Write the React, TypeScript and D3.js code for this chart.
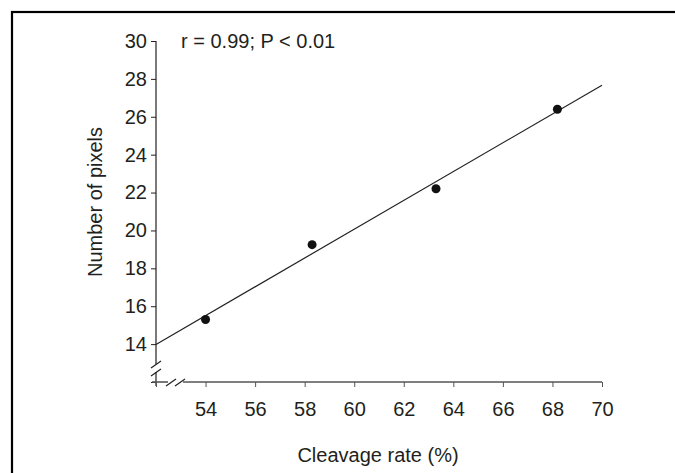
import { useEffect, useRef } from "react";
import * as d3 from "d3";

const cleavageRate = [54.0, 58.3, 63.3, 68.2];
const pixelCount = [15.3, 19.25, 22.2, 26.4];
const xTicks = [52, 54, 56, 58, 60, 62, 64, 66, 68, 70];
const yTicks = [12, 14, 16, 18, 20, 22, 24, 26, 28, 30];
const annotation = "r = 0.99; P < 0.01";

const W = 675;
const H = 473;
const FONT = "'Liberation Sans', Arial, sans-serif";
const INK = "#231f20";
const FS = "20px";

export default function App() {
  const svgRef = useRef<SVGSVGElement>(null);

  useEffect(() => {
    if (!svgRef.current) return;
    const svg = d3.select(svgRef.current);
    svg.selectAll("*").remove();

    const x = d3.scaleLinear().domain([52, 70]).range([156, 602]);
    const y = d3.scaleLinear().domain([12, 30]).range([382, 41]);

    // outer frame (runs off the right and bottom)
    svg.append("rect")
      .attr("x", 12).attr("y", 12)
      .attr("width", W).attr("height", H)
      .attr("fill", "none").attr("stroke", "#000").attr("stroke-width", 2.2);

    // y axis, broken near the bottom
    const yAxis = svg.append("g").attr("transform", `translate(${x(52)},0)`);
    yAxis.call(d3.axisLeft(y).tickValues(yTicks).tickSize(5).tickFormat((d) => (d === 12 ? "" : String(d))));
    yAxis.select(".domain").remove();
    yAxis.selectAll("line").attr("stroke", INK);
    yAxis.selectAll("text")
      .attr("x", -9)
      .style("font-family", FONT).style("font-size", FS).attr("fill", INK);
    const gapY = [364, 372];
    yAxis.append("line").attr("x1", 0).attr("x2", 0).attr("y1", y(30)).attr("y2", gapY[0]).attr("stroke", INK).attr("stroke-width", 1.2);
    yAxis.append("line").attr("x1", 0).attr("x2", 0).attr("y1", gapY[1]).attr("y2", y(12) + 4).attr("stroke", INK).attr("stroke-width", 1.2);
    gapY.forEach((gy) => {
      yAxis.append("line").attr("x1", -5).attr("x2", 5).attr("y1", gy + 4).attr("y2", gy - 3)
        .attr("stroke", INK).attr("stroke-width", 1.2);
    });

    // x axis, broken near the left
    const xAxis = svg.append("g").attr("transform", `translate(0,${y(12)})`);
    xAxis.call(d3.axisBottom(x).tickValues(xTicks).tickSize(5).tickFormat((d) => (d === 52 ? "" : String(d))));
    xAxis.select(".domain").remove();
    xAxis.selectAll("line").attr("stroke", "#555");
    xAxis.selectAll("text")
      .attr("y", 20)
      .style("font-family", FONT).style("font-size", FS).attr("fill", INK);
    const gapX = [171, 180];
    xAxis.append("line").attr("x1", x(52) - 4).attr("x2", gapX[0] - 3).attr("y1", 0).attr("y2", 0).attr("stroke", "#555").attr("stroke-width", 1.6);
    xAxis.append("line").attr("x1", gapX[1] + 3).attr("x2", x(70)).attr("y1", 0).attr("y2", 0).attr("stroke", "#555").attr("stroke-width", 1.6);
    gapX.forEach((gx) => {
      xAxis.append("line").attr("x1", gx - 5).attr("x2", gx + 5).attr("y1", 4).attr("y2", -3)
        .attr("stroke", INK).attr("stroke-width", 1.2);
    });

    // least-squares fit from the data
    const mx = d3.mean(cleavageRate) as number;
    const my = d3.mean(pixelCount) as number;
    const sxy = d3.sum(cleavageRate, (v, i) => (v - mx) * (pixelCount[i] - my));
    const sxx = d3.sum(cleavageRate, (v) => (v - mx) ** 2);
    const slope = sxy / sxx;
    const fit = (v: number) => my + slope * (v - mx);
    svg.append("line")
      .attr("x1", x(52)).attr("y1", y(fit(52)))
      .attr("x2", x(70)).attr("y2", y(fit(70)))
      .attr("stroke", "#222").attr("stroke-width", 1.2);

    // points
    svg.append("g").selectAll("circle")
      .data(cleavageRate)
      .join("circle")
      .attr("cx", (d) => x(d))
      .attr("cy", (_d, i) => y(pixelCount[i]))
      .attr("r", 4.5)
      .attr("fill", "#111");

    // annotation
    svg.append("text")
      .attr("x", 181).attr("y", 48)
      .style("font-family", FONT).style("font-size", FS).attr("fill", INK)
      .text(annotation);

    // axis titles
    svg.append("text")
      .attr("x", 378).attr("y", 462)
      .attr("text-anchor", "middle")
      .style("font-family", FONT).style("font-size", FS).attr("fill", INK)
      .text("Cleavage rate (%)");

    svg.append("text")
      .attr("transform", `translate(102,202) rotate(-90)`)
      .attr("text-anchor", "middle")
      .style("font-family", FONT).style("font-size", FS).attr("fill", INK)
      .text("Number of pixels");
  }, []);

  return (
    <div style={{ position: "fixed", left: 0, top: 0, width: W, height: H, background: "#fff" }}>
      <svg ref={svgRef} width={W} height={H} />
    </div>
  );
}
